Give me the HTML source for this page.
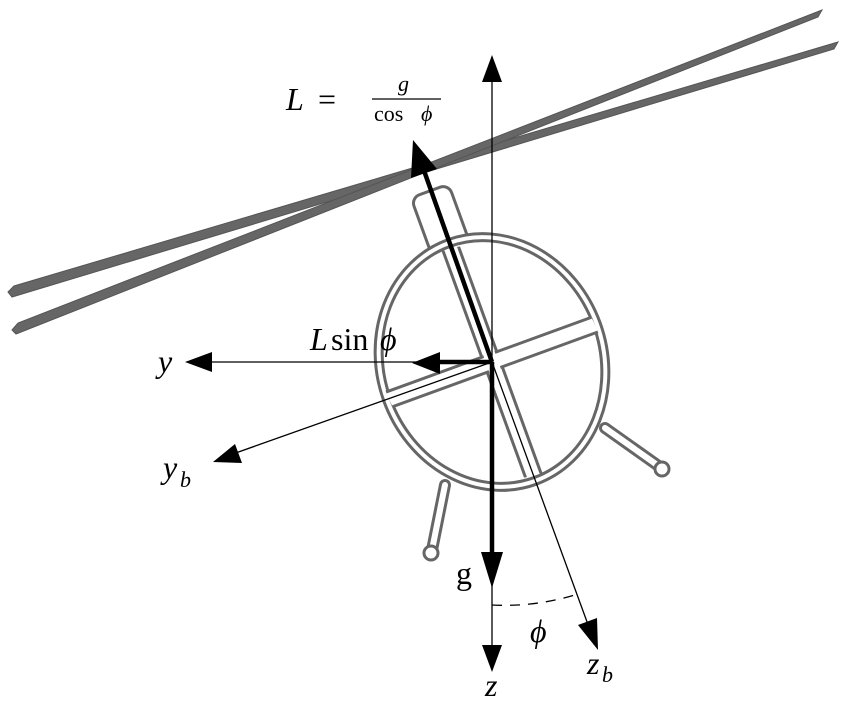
<!DOCTYPE html>
<html><head><style>body{margin:0;background:#fff}svg{display:block}</style></head><body>
<svg width="850" height="704" viewBox="0 0 850 704" xmlns="http://www.w3.org/2000/svg" font-family="'Liberation Serif',serif">
<defs>
<clipPath id="ce"><ellipse cx="492" cy="362" rx="108" ry="123" transform="rotate(-20 492 362)"/></clipPath>
</defs>
<!-- legs -->
<line x1="445" y1="485" x2="432" y2="550" stroke="#666" stroke-width="12" stroke-linecap="round"/>
<line x1="445" y1="485" x2="432" y2="550" stroke="#fff" stroke-width="6" stroke-linecap="round"/>
<circle cx="431" cy="553" r="7" fill="#fff" stroke="#666" stroke-width="3"/>
<line x1="605" y1="428" x2="660" y2="467" stroke="#666" stroke-width="12" stroke-linecap="round"/>
<line x1="605" y1="428" x2="660" y2="467" stroke="#fff" stroke-width="6" stroke-linecap="round"/>
<circle cx="662" cy="469" r="7" fill="#fff" stroke="#666" stroke-width="3"/>
<!-- mast -->
<g transform="rotate(-20 492 362)">
<rect x="472" y="180" width="40" height="80" rx="9" fill="#fff" stroke="#666" stroke-width="3"/>
</g>
<!-- body -->
<g transform="rotate(-20 492 362)">
<ellipse cx="492" cy="362" rx="115" ry="130" fill="#fff" stroke="#666" stroke-width="3"/>
<ellipse cx="492" cy="362" rx="108" ry="123" fill="#fff" stroke="#666" stroke-width="3"/>
<g clip-path="url(#ce)">
<rect x="484" y="220" width="16" height="290" fill="#fff" stroke="#666" stroke-width="3"/>
<rect x="360" y="354" width="270" height="16" fill="#fff" stroke="#666" stroke-width="3"/>
<rect x="486" y="225" width="12" height="280" fill="#fff"/>
</g>
</g>
<!-- blades (crossing) -->
<polygon points="8,292 14,286 838,42 834,49 12,297" fill="#666" stroke="#555" stroke-width="1"/>
<polygon points="12,330 18,323 822,10 818,17 16,334" fill="#666" stroke="#555" stroke-width="1"/>
<!-- axes thin -->
<g stroke="#000" stroke-width="1.3" fill="none">
<line x1="492" y1="75" x2="492" y2="660"/>
<line x1="492" y1="362" x2="205" y2="362"/>
<line x1="492" y1="362" x2="230" y2="455"/>
<line x1="492" y1="362" x2="590" y2="630"/>
<path d="M492,605 A243,243 0 0 0 578,594" stroke-dasharray="10,8"/>
</g>
<g fill="#000">
<polygon points="492,55 482,82 502,82"/>
<polygon points="492,672 482,645 502,645"/>
<polygon points="185,362 212,352 212,372"/>
<polygon points="213,462 235,444 242,463"/>
<polygon points="598,650 578,625 597,618"/>
</g>
<!-- thick -->
<g stroke="#000" stroke-width="4.5">
<line x1="492" y1="362" x2="422" y2="165"/>
<line x1="492" y1="362" x2="440" y2="362"/>
<line x1="492" y1="362" x2="492" y2="560"/>
</g>
<g fill="#000">
<polygon points="413,140 411,178 437,169"/>
<polygon points="412,363 440,352 440,374"/>
<polygon points="492,588 481,552 503,552"/>
</g>
<!-- labels -->
<g font-style="italic" font-size="32">
<text x="158" y="372">y</text>
<text x="163" y="478">y</text><text x="180" y="487" font-size="22">b</text>
<text x="485" y="696">z</text>
<text x="587" y="674">z</text><text x="602" y="682" font-size="22">b</text>
<text x="530" y="642">ϕ</text>
<text x="310" y="350">L</text>
<text x="286" y="110">L</text>
<text x="398" y="91" font-size="22">g</text>
<text x="421" y="121" font-size="22">ϕ</text>
</g>
<g font-size="32">
<text x="331" y="350">sin</text>
<text x="380" y="350" font-style="italic">ϕ</text>
<text x="456" y="584">g</text>
<text x="318" y="110">=</text>
<text x="374" y="121" font-size="22">cos</text>
</g>
<line x1="372" y1="99" x2="441" y2="99" stroke="#000" stroke-width="1.3"/>
</svg>
</body></html>
